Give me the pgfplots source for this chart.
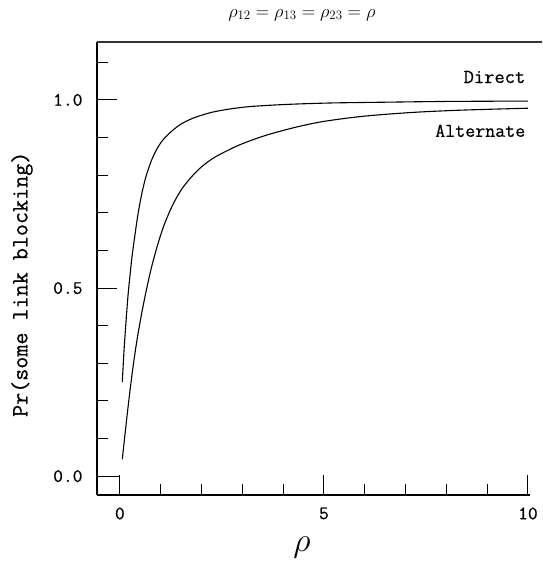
\documentclass[border=0pt]{standalone}
\usepackage{fix-cm}
\usepackage{fontspec}
\newfontfamily\plotfont{Latin Modern Mono}[FakeBold=0.6]
\usepackage{pgfplots}
\pgfplotsset{compat=1.18}
\usetikzlibrary{calc}

\begin{document}
\begin{tikzpicture}
\begin{axis}[
    scale only axis,
    width=433bp, height=453bp,
    xmin=-0.56, xmax=10.05,
    ymin=-0.05, ymax=1.154,
    axis x line*=bottom,
    axis y line*=left,
    axis line style={line width=1.2bp},
    tick align=inside,
    xtick={0,5,10},
    xticklabels={0,5,10},
    minor xtick={1,2,3,4,6,7,8,9},
    ytick={0,0.5,1},
    yticklabels={0.0,0.5,1.0},
    minor ytick={0.1,0.2,0.3,0.4,0.6,0.7,0.8,0.9,1.1},
    major tick length=20bp,
    minor tick length=11bp,
    tick style={line width=1bp, black},
    ticklabel style={font=\fontsize{19}{22}\selectfont\plotfont},
    yticklabel style={xshift=-11bp},
    xticklabel style={yshift=-9bp},
    clip=false,
]
% Direct
\addplot[smooth, line width=1.1bp, black] coordinates {
    (0.06,0.25) (0.10,0.33) (0.15,0.41) (0.20,0.48) (0.25,0.535) (0.30,0.585)
    (0.37,0.641) (0.45,0.70) (0.55,0.757) (0.65,0.80) (0.77,0.838) (0.90,0.868)
    (1.05,0.893) (1.27,0.917) (1.50,0.936) (1.76,0.950) (2.05,0.961) (2.33,0.969)
    (2.7,0.976) (3.15,0.982) (3.7,0.986) (4.29,0.989) (5.2,0.992) (6.5,0.994)
    (8,0.996) (10,0.997)
};
% Alternate
\addplot[smooth, line width=1.1bp, black] coordinates {
    (0.06,0.045) (0.12,0.105) (0.20,0.183) (0.30,0.272) (0.41,0.355) (0.53,0.43)
    (0.65,0.495) (0.78,0.557) (0.94,0.62) (1.10,0.672) (1.30,0.722) (1.51,0.762)
    (1.75,0.795) (2.0,0.822) (2.33,0.848) (2.9,0.879) (3.55,0.905) (4.29,0.927)
    (5.0,0.943) (6.0,0.957) (7.2,0.967) (8.4,0.973) (10,0.978)
};
% small box at the origin
\draw[line width=1.1bp] (axis cs:-0.56,0) -- (axis cs:0,0) -- (axis cs:0,-0.05);
% top frame line
\draw[line width=1.1bp, black!80] (rel axis cs:0,1) -- ([xshift=12bp]rel axis cs:1,1);
\node[anchor=east, font=\fontsize{20}{23}\selectfont\plotfont] at (axis cs:10.02,1.061) {Direct};
\node[anchor=east, font=\fontsize{19.5}{23}\selectfont\plotfont] at (axis cs:10.02,0.918) {Alternate};
\node[rotate=90, font=\fontsize{23.5}{26}\selectfont\plotfont] at ([xshift=-75bp]axis cs:-0.56,0.51) {Pr(some link blocking)};
\node[font=\fontsize{34}{38}\selectfont] at ([yshift=-52bp]axis cs:4.46,-0.05) {$\rho$};
\node[font=\fontsize{18.5}{21}\selectfont] at ([yshift=27bp]axis cs:4.46,1.154) {$\rho_{12}=\rho_{13}=\rho_{23}=\rho$};
\coordinate (ll) at (rel axis cs:0,0);
\coordinate (ur) at (rel axis cs:1,1);
\end{axis}
\pgfresetboundingbox
\path[use as bounding box] ($(ll)+(-97bp,-66bp)$) rectangle ($(ur)+(13bp,42bp)$);
\end{tikzpicture}
\end{document}
